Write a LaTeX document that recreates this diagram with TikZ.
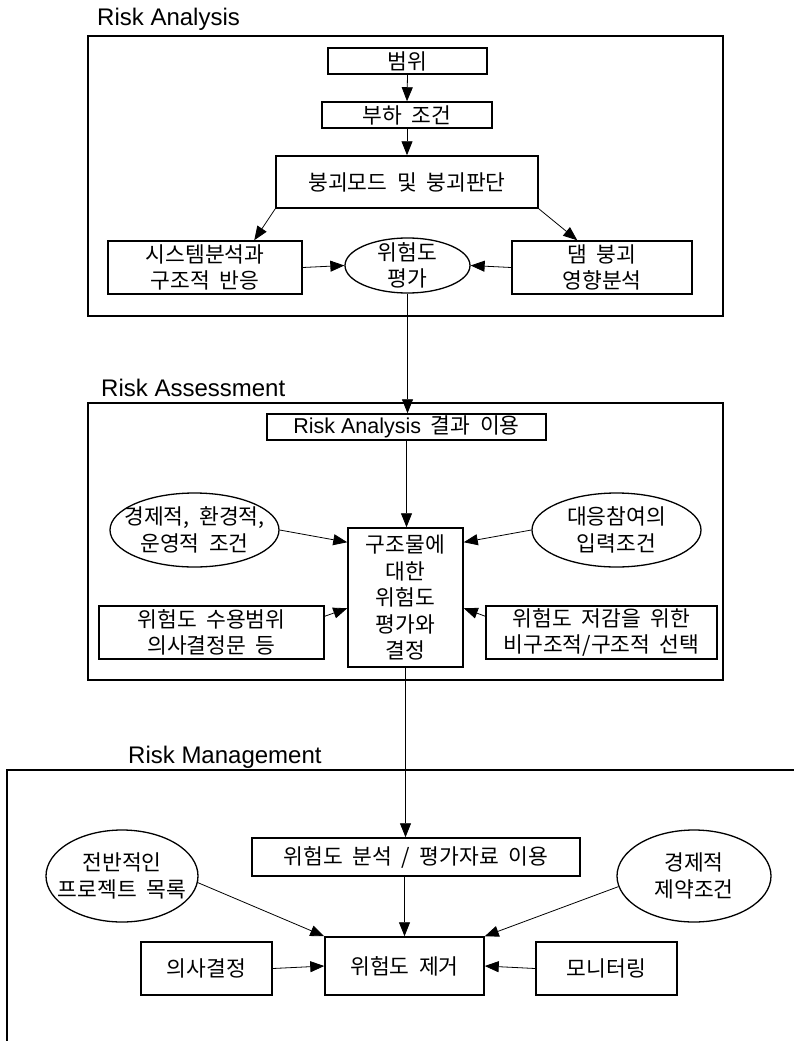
\documentclass[tikz,border=0pt]{standalone}
\usepackage{fontspec}
\setmainfont{Liberation Sans}
\newfontfamily\kr[WordSpace=2]{Noto Sans CJK KR}
\newfontfamily\arialf{Liberation Sans}
\usetikzlibrary{shapes.geometric,arrows.meta}
\begin{document}
\begin{tikzpicture}[x=1pt,y=-1pt,
  txt/.style={font=\kr\fontsize{21.5}{26.5}\selectfont, align=center},
  box/.style={txt, draw, line width=1.5pt, inner sep=0pt},
  ell/.style={draw, ellipse, line width=1.3pt, inner sep=0pt},
  frame/.style={line width=1.5pt},
  ttl/.style={font=\arialf\fontsize{24}{28}\selectfont, anchor=west, inner sep=0pt},
  arr/.style={-{Triangle[length=14pt,width=11pt]}, line width=0.8pt},
]
\useasboundingbox (0,0) rectangle (794,1041);

% ---------------- Risk Analysis ----------------
\node[ttl] (tA) at (97,19) {Risk Analysis};
\draw[frame] (88,36) rectangle (723,316);
\node[box, minimum width=159pt, minimum height=26pt] (scope) at (407.5,61) {범위};
\node[box, minimum width=170pt, minimum height=26pt] (load) at (407,115) {부하 조건};
\node[box, minimum width=262pt, minimum height=52pt] (mode) at (407,182) {붕괴모드 및 붕괴판단};
\node[box, minimum width=194pt, minimum height=53pt] (sys) at (205,267.5) {시스템분석과\\구조적 반응};
\node[ell, minimum width=125pt, minimum height=55pt, label={[txt]center:{위험도\\평가}}] (rev) at (407.5,265.5) {};
\node[box, minimum width=180pt, minimum height=53pt] (dam) at (602,267.5) {댐 붕괴\\영향분석};

\draw[arr] (scope.south) -- (load.north);
\draw[arr] (load.south) -- (mode.north);
\draw[arr] (mode.south west) -- ([xshift=147pt]sys.north west);
\draw[arr] (mode.south east) -- ([xshift=66pt]dam.north west);
\draw[arr] (sys.east) -- (rev.west);
\draw[arr] (dam.west) -- (rev.east);

% ---------------- Risk Assessment ----------------
\node[ttl] (tB) at (101,388) {Risk Assessment};
\draw[frame] (88,403) rectangle (723,680);
\node[box, minimum width=279pt, minimum height=26pt] (useA) at (406.5,427) {{\arialf Risk Analysis} 결과 이용};
\node[ell, minimum width=169pt, minimum height=74pt, label={[txt]center:{경제적, 환경적,\\운영적 조건}}] (econ) at (194.5,530) {};
\node[ell, minimum width=169pt, minimum height=74pt, label={[txt]center:{대응참여의\\입력조건}}] (resp) at (616.5,530) {};
\node[box, minimum width=115pt, minimum height=139pt] (decide) at (405.5,597.5) {구조물에\\대한\\위험도\\평가와\\결정};
\node[box, minimum width=225pt, minimum height=53pt] (accept) at (211.5,632.5) {위험도 수용범위\\의사결정문 등};
\node[box, minimum width=231pt, minimum height=53pt] (reduce) at (601.5,632.5) {위험도 저감을 위한\\비구조적/구조적 선택};

\draw[arr] (rev.south) -- (rev.south |- useA.north);
\draw[arr] (useA.south) -- (useA.south |- decide.north);
\draw[arr] (econ.east) -- ([yshift=-15pt]decide.north west);
\draw[arr] (resp.west) -- ([yshift=-15pt]decide.north east);
\draw[arr] ([yshift=-11pt]accept.north east) -- ([yshift=-81pt]decide.north west);
\draw[arr] ([yshift=-11pt]reduce.north west) -- ([yshift=-81pt]decide.north east);

% ---------------- Risk Management ----------------
\node[ttl] (tC) at (128,757) {Risk Management};
\draw[frame] (7,1041) -- (7,770) -- (794,770);
\node[box, minimum width=328pt, minimum height=38pt] (anal) at (416,857) {위험도 분석 / 평가자료 이용};
\node[ell, minimum width=152pt, minimum height=92pt, label={[txt]center:{전반적인\\프로젝트 목록}}] (lell) at (122,876) {};
\node[ell, minimum width=154pt, minimum height=92pt, label={[txt]center:{경제적\\제약조건}}] (rell) at (694,876) {};
\node[box, minimum width=159pt, minimum height=58pt] (remove) at (404.5,966) {위험도 제거};
\node[box, minimum width=131pt, minimum height=53pt] (dec) at (206.5,968.5) {의사결정};
\node[box, minimum width=141pt, minimum height=53pt] (mon) at (606.5,968.5) {모니터링};

\draw[arr] (decide.south) -- (decide.south |- anal.north);
\draw[arr] (remove.north |- anal.south) -- (remove.north);
\draw[arr] (lell.-5) -- (remove.north west);
\draw[arr] (rell.188) -- (remove.north east);
\draw[arr] (dec.east) -- (remove.west);
\draw[arr] (mon.west) -- (remove.east);
\end{tikzpicture}
\end{document}
